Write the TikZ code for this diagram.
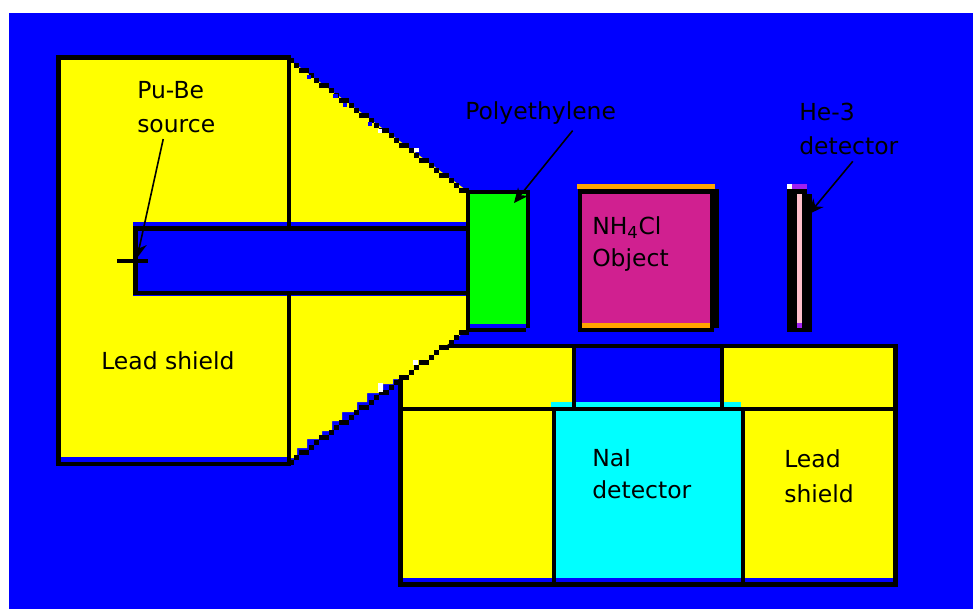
\documentclass[tikz,border=0pt]{standalone}
\usepackage{fontspec}
\setmainfont{DejaVu Sans}
\usetikzlibrary{arrows.meta}
\definecolor{bgblue}{RGB}{0,0,255}
\definecolor{leadyellow}{RGB}{255,255,0}
\definecolor{polygreen}{RGB}{0,255,0}
\definecolor{objmagenta}{RGB}{208,32,144}
\definecolor{objorange}{RGB}{255,165,0}
\definecolor{naicyan}{RGB}{0,255,255}
\definecolor{hepink}{RGB}{255,192,203}
\definecolor{hepurple}{RGB}{160,32,240}
\begin{document}
\begin{tikzpicture}[
    x=0.75pt, y=-0.75pt,
    wall/.style={draw=black, line width=3.7pt},
    block/.style={fill=black},
    pointer/.style={draw=black, line width=1.2pt, -{Stealth[length=11pt,width=10pt]}},
    label/.style={anchor=west, inner sep=0pt, font=\fontsize{17.6}{20}\selectfont},
  ]

  % Surrounding vacuum, white margin on the top and left.
  \fill[bgblue] (9,13) rectangle (973,609);

  % Lower lead shield with the NaI detector in it.
  \fill[leadyellow] (403,348) rectangle (893,578);
  \fill[bgblue] (401,578) rectangle (895,583);
  \fill[bgblue] (576,348) rectangle (720,402);
  \fill[naicyan] (551,402) rectangle (741,407);
  \fill[naicyan] (556,407) rectangle (742,578);
  \draw[wall] (445,346) -- (895.5,346) -- (895.5,584.5) -- (400.5,584.5) -- (400.5,379);
  \draw[wall] (400.5,409) -- (895.5,409);
  \draw[wall] (554,409) -- (554,584.5);
  \draw[wall] (743,409) -- (743,584.5);
  \draw[wall] (574,346) -- (574,407);
  \draw[wall] (722,346) -- (722,407);

  % Source shield: box and stepped cone.
  \fill[leadyellow] (61,60) rectangle (287,457);
  \fill[leadyellow] (290,60) -- (466,190) -- (466,331) -- (403,377)
    -- (403,379) -- (393,379) -- (393,384) -- (383,384) -- (383,393) -- (367,393)
    -- (367,402) -- (357,402) -- (357,412) -- (342,412) -- (342,421) -- (332,421)
    -- (332,431) -- (322,431) -- (322,439) -- (307,439) -- (307,448) -- (297,448)
    -- (297,458) -- (290,458) -- cycle;
  \fill[bgblue] (61,457) rectangle (287,461);
  \fill[bgblue] (133,222) rectangle (466,296);
  \draw[wall] (289,228) -- (289,57.5) -- (58.5,57.5) -- (58.5,464) -- (289,464) -- (289,293);
  \foreach \i in {0,...,35} {
    \pgfmathsetmacro{\px}{289+5*\i}
    \pgfmathsetmacro{\py}{58+5*round(0.75*\i)}
    \pgfmathsetmacro{\qy}{460-5*round(0.75*\i)}
    \fill[block] (\px,\py) rectangle ++(5.2,4.6);
    \fill[block] (\px,\qy) rectangle ++(5.2,4.6);
  }

  % Stray pixels along the cone edge.
  \fill[white] (378,129) rectangle ++(4,4);
  \fill[white] (414,148) rectangle ++(5,4);
  \fill[white] (378,383) rectangle ++(5,9);
  \fill[white] (413,360) rectangle ++(5,5);
  \fill[bgblue] (307,75) rectangle ++(4,4);
  \fill[bgblue] (333,94) rectangle ++(5,4);
  \fill[bgblue] (343,103) rectangle ++(4,4);
  \fill[bgblue] (368,122) rectangle ++(4,4);

  % Beam channel with the source mark.
  \draw[wall] (466,228.5) -- (135.5,228.5) -- (135.5,293) -- (466,293);
  \draw[black, line width=2.6pt] (117,261) -- (148,261);

  % Polyethylene block.
  \fill[black] (466,190) rectangle (530,332);
  \fill[polygreen] (470,194) rectangle (526,324);
  \fill[bgblue] (470,324) rectangle (526,328);
  \fill[bgblue] (526,328) rectangle (530,332);

  % Object.
  \fill[objorange] (577,184) rectangle (715,189);
  \fill[black] (578,189) rectangle (719,332);
  \fill[bgblue] (714,328) rectangle (719,332);
  \fill[objmagenta] (582,194) rectangle (710,323);
  \fill[objorange] (582,323) rectangle (710,328);

  % He-3 tube.
  \fill[white] (787,184) rectangle (792,189);
  \fill[hepurple] (792,184) rectangle (807,189);
  \fill[black] (787,189) rectangle (812,332);
  \fill[bgblue] (807,189) rectangle (812,194);
  \fill[hepink] (797,194) rectangle (802,323);
  \fill[hepurple] (797,323) rectangle (802,328);

  \node[label] (pube) at (137,90) {Pu-Be};
  \node[label] (source) at (137,126) {source};
  \node[label] (leadleft) at (101,361) {Lead shield};
  \node[label] (poly) at (465,113) {Polyethylene};
  \node[label] (nh) at (592,228) {NH\textsubscript{4}Cl};
  \node[label] (object) at (592,260) {Object};
  \node[label] (he) at (799,112) {He-3};
  \node[label] (detector) at (799,146) {detector};
  \node[label] (nai) at (592,458) {NaI};
  \node[label] (naidet) at (592,490) {detector};
  \node[label] (lead) at (784,459) {Lead};
  \node[label] (shield) at (784,494) {shield};

  \coordinate (sourcetip) at (137,258);
  \coordinate (polytip) at (514,203);
  \coordinate (hetip) at (809,214);
  \draw[pointer] (source.south) ++(-13,6) -- (sourcetip);
  \draw[pointer] (poly.south) ++(32,6) -- (polytip);
  \draw[pointer] (detector.south) ++(4,6) -- (hetip);

  \pgfresetboundingbox
  \path[use as bounding box] (0,0) rectangle (973,609);
\end{tikzpicture}
\end{document}
